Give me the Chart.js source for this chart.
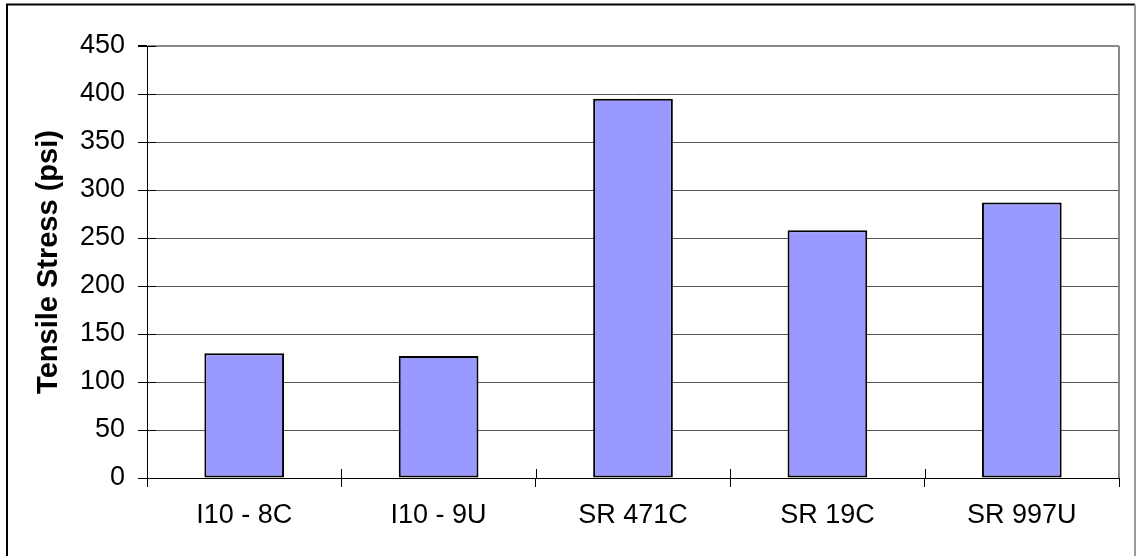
<!DOCTYPE html>
<html>
<head>
<meta charset="utf-8">
<script src="https://cdn.jsdelivr.net/npm/chart.js@4/dist/chart.umd.min.js"></script>
<style>
  body { margin: 0; background: #fff; }
  #chart { display: block; }
</style>
</head>
<body>
<canvas id="chart" width="1138" height="556"></canvas>
<script>
const categories = ["I10 - 8C", "I10 - 9U", "SR 471C", "SR 19C", "SR 997U"];
const tensileStress = [130, 127, 395, 258, 287];
const yTicks = [0, 50, 100, 150, 200, 250, 300, 350, 400, 450];

const FONT = "'Liberation Sans', Arial, sans-serif";

// frame, plot border and the inner halves of the cross ticks
const extras = {
  id: "extras",
  beforeDraw(chart) {
    const c = chart.ctx;
    c.save();
    c.lineWidth = 2;
    c.strokeStyle = "#000";
    c.beginPath();
    c.moveTo(7, 556);
    c.lineTo(7, 4.5);
    c.lineTo(1135, 4.5);
    c.stroke();
    c.strokeStyle = "#999";
    c.beginPath();
    c.moveTo(1135, 4.5);
    c.lineTo(1135, 556);
    c.stroke();
    c.restore();
  },
  afterDraw(chart) {
    const c = chart.ctx;
    const x = chart.scales.x;
    const y = chart.scales.y;
    const a = chart.chartArea;
    c.save();
    c.lineWidth = 1;
    c.strokeStyle = "#000";
    c.beginPath();
    const step = x.width / categories.length;
    for (let i = 1; i <= categories.length; i++) {
      const px = Math.round(x.left + i * step) + 0.5;
      c.moveTo(px, a.bottom);
      c.lineTo(px, a.bottom - 9);
    }
    yTicks.forEach(v => {
      const py = Math.round(y.getPixelForValue(v)) + 0.5;
      c.moveTo(a.left, py);
      c.lineTo(a.left + 9, py);
    });
    c.stroke();
    c.strokeStyle = "#888";
    c.lineWidth = 2;
    c.beginPath();
    c.moveTo(a.right, a.top);
    c.lineTo(a.right, a.bottom);
    c.stroke();
    c.restore();
  }
};

new Chart(document.getElementById("chart"), {
  type: "bar",
  data: {
    labels: categories,
    datasets: [{
      data: tensileStress,
      backgroundColor: "#9999ff",
      borderColor: "#000",
      borderWidth: 2,
      borderSkipped: false,
      categoryPercentage: 1,
      barPercentage: 0.41
    }]
  },
  options: {
    responsive: false,
    animation: false,
    devicePixelRatio: 1,
    layout: { padding: { left: 20, right: 19, top: 46, bottom: 0 } },
    plugins: { legend: { display: false }, tooltip: { enabled: false } },
    scales: {
      x: {
        offset: true,
        grid: { offset: true, drawOnChartArea: false, drawTicks: true, tickLength: 9, color: "#000" },
        border: { color: "#000", width: 1 },
        ticks: { color: "#000", font: { family: FONT, size: 27 }, padding: 12, maxRotation: 0 },
        afterFit(s) { s.height = 556 - 478; }
      },
      y: {
        min: 0,
        max: 450,
        afterBuildTicks(s) { s.ticks = yTicks.map(v => ({ value: v })); },
        grid: {
          color: ctx => (ctx.tick && ctx.tick.value === 450 ? "#888" : "#555"),
          lineWidth: ctx => (ctx.tick && ctx.tick.value === 450 ? 2 : 1),
          tickColor: "#000",
          tickLength: 9
        },
        border: { color: "#000", width: 1 },
        ticks: { color: "#000", font: { family: FONT, size: 27 }, padding: 13 },
        title: {
          display: true,
          text: "Tensile Stress (psi)",
          color: "#000",
          font: { family: FONT, size: 29, weight: "bold" },
          padding: { top: 12, bottom: 0 }
        },
        afterFit(s) { s.width = 147 - 20; }
      }
    }
  },
  plugins: [extras]
});
</script>
</body>
</html>
